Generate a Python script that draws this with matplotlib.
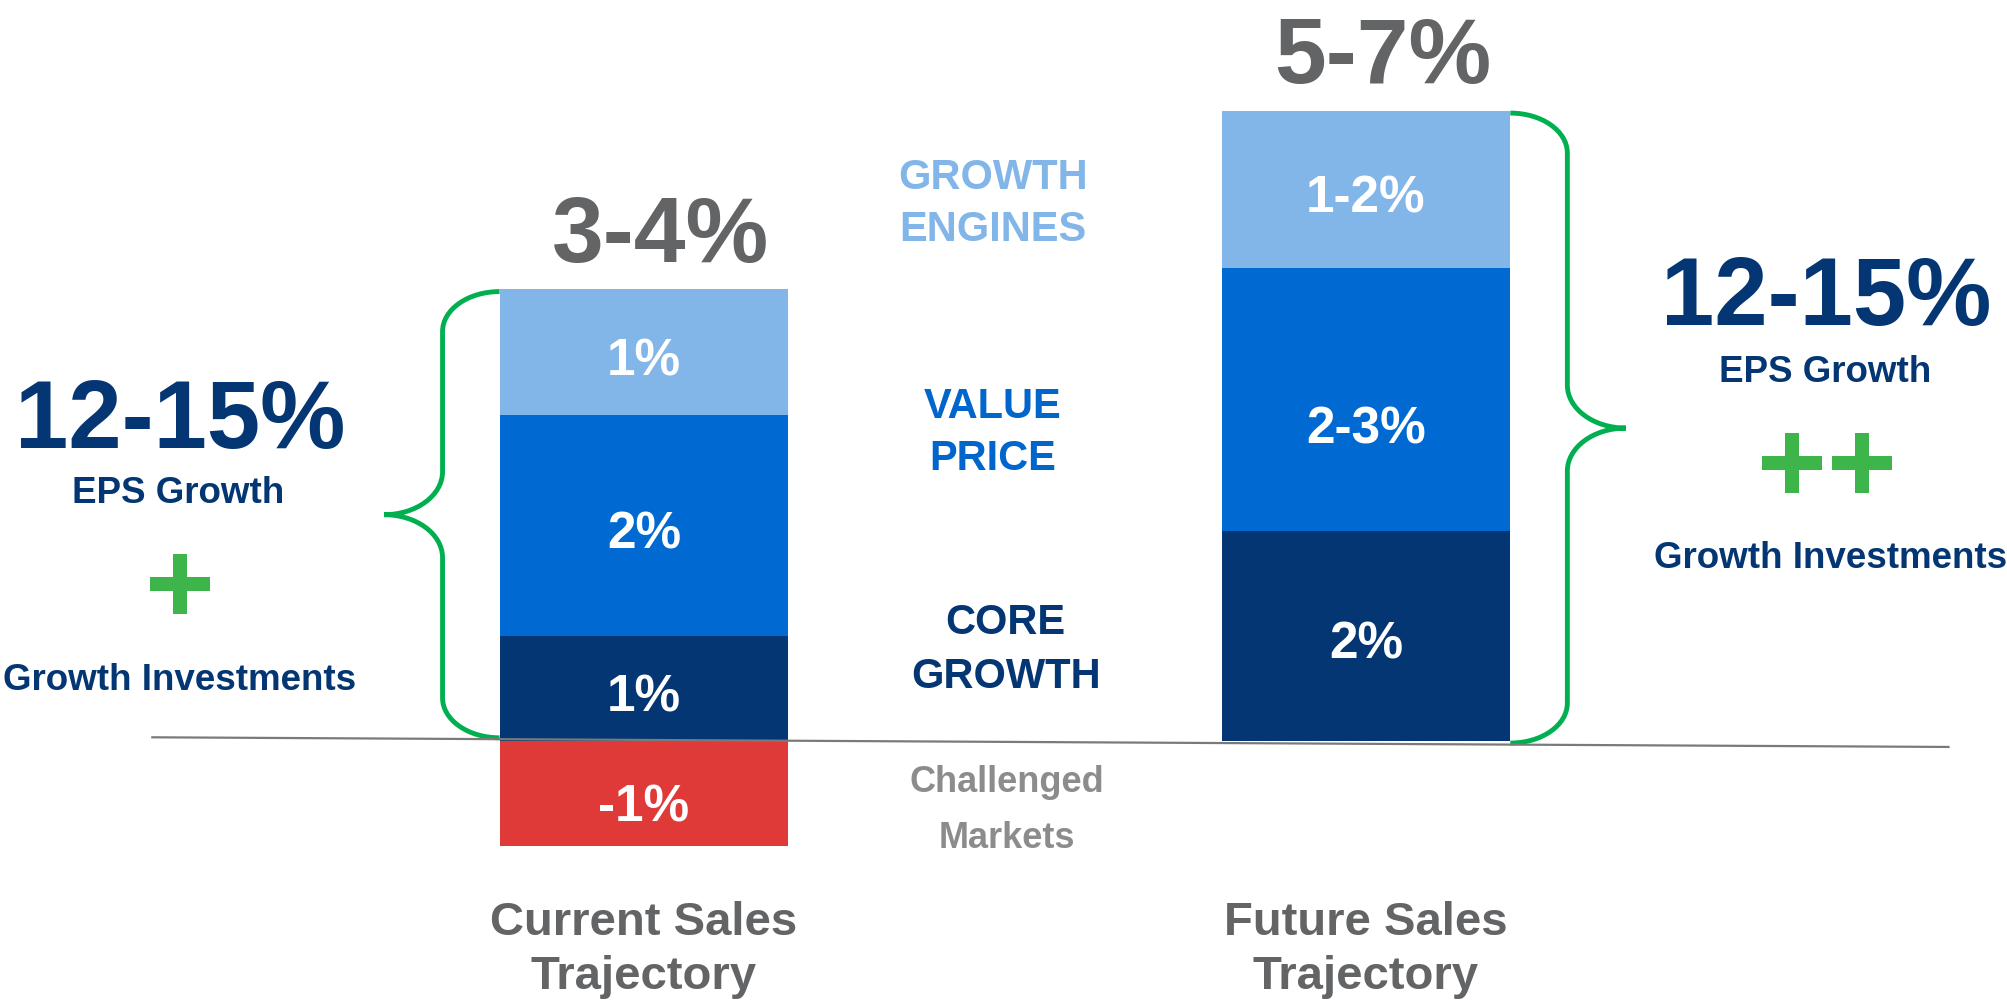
import numpy as np
import matplotlib.pyplot as plt
from matplotlib.path import Path
from matplotlib.patches import PathPatch

plt.rcParams['font.family'] = ['Liberation Sans', 'DejaVu Sans']

# chart data
categories = ['Current Sales\nTrajectory', 'Future Sales\nTrajectory']
core = [1.0, 2.0]
value = [2.1, 2.5]
growth = [1.2, 1.5]
challenged = [-1.0, 0.0]
core_labels = ['1%', '2%']
value_labels = ['2%', '2-3%']
growth_labels = ['1%', '1-2%']
challenged_labels = ['-1%', '']
total_labels = ['3-4%', '5-7%']
eps_labels = ['12-15%', '12-15%']
plus_counts = [1, 2]

NAVY = '#033673'
BLUE = '#006AD2'
LIGHT = '#82B5E8'
RED = '#E03A38'
GREEN = '#00B050'
PLUS_GREEN = '#3DB54A'
GRAY = '#636466'
LIGHT_GRAY = '#8C8C8C'

fig = plt.figure(figsize=(20.07, 10), dpi=100)
ax = fig.add_axes([0, 0, 1, 1])
ax.set_xlim(-0.892, 1.888)
ax.set_ylim(-2.467, 7.057)
ax.axis('off')

x = np.arange(len(categories))
w = 0.4
core = np.array(core)
value = np.array(value)
growth = np.array(growth)
challenged = np.array(challenged)
top = core + value + growth

ax.bar(x, core, w, color=NAVY)
ax.bar(x, value, w, bottom=core, color=BLUE)
ax.bar(x, growth, w, bottom=core + value, color=LIGHT)
ax.bar(x, challenged, w, color=RED)

# baseline (slightly tilted like the slide)
ax.plot([-0.681, 1.807], [0.035, -0.057], color='#7a7a7a', lw=1.6, zorder=5)


def seg_label(xi, yc, s, fs=37, dy=0):
    if not s:
        return
    ax.annotate(s, (xi, yc), xytext=(0, -0.36 * fs - 3 + dy), textcoords='offset points',
                ha='center', va='baseline', color='white', fontsize=fs,
                fontweight='bold', zorder=6)


for i in x:
    seg_label(i, core[i] / 2, core_labels[i])
    seg_label(i, core[i] + value[i] / 2, value_labels[i], dy=-15 * i)
    seg_label(i, core[i] + value[i] + growth[i] / 2, growth_labels[i])
    seg_label(i, challenged[i] / 2, challenged_labels[i], dy=-4)
    ax.annotate(total_labels[i], (i, top[i]), xytext=(12, 20), textcoords='offset points',
                ha='center', va='baseline', color=GRAY, fontsize=67, fontweight='bold')
    # va='baseline' on multi-line text anchors the last line
    ax.text(i, -2.362, categories[i], ha='center', va='baseline', color=GRAY,
            fontsize=34, fontweight='bold', linespacing=1.28)


# curly braces
def brace(x_edge, y0, y1, s, d=0.079, t=0.081, r=0.38, rt=0.41):
    k = 0.552
    mid = (y0 + y1) / 2
    pts = [
        (0, y1),
        (k * d, y1), (d, y1 - r + k * r), (d, y1 - r),
        (d, mid + rt),
        (d, mid + rt - k * rt), (d + t - k * t, mid), (d + t, mid),
        (d + t - k * t, mid), (d, mid - rt + k * rt), (d, mid - rt),
        (d, y0 + r),
        (d, y0 + r - k * r), (k * d, y0), (0, y0),
    ]
    codes = [Path.MOVETO,
             Path.CURVE4, Path.CURVE4, Path.CURVE4,
             Path.LINETO,
             Path.CURVE4, Path.CURVE4, Path.CURVE4,
             Path.CURVE4, Path.CURVE4, Path.CURVE4,
             Path.LINETO,
             Path.CURVE4, Path.CURVE4, Path.CURVE4]
    verts = [(x_edge + s * px, py) for px, py in pts]
    ax.add_patch(PathPatch(Path(verts, codes), fill=False, edgecolor=GREEN,
                           lw=3.5, capstyle='butt', zorder=4))


brace(0 - w / 2, 0.03, top[0] - 0.02, -1)
brace(1 + w / 2, -0.02, top[1] - 0.02, 1)

# middle legend-like labels
ax.text(0.483, 4.762, 'GROWTH\nENGINES', ha='center', va='baseline', color=LIGHT,
        fontsize=30, fontweight='bold', linespacing=1.4)
ax.text(0.483, 2.581, 'VALUE\nPRICE', ha='center', va='baseline', color='#0066CC',
        fontsize=30, fontweight='bold', linespacing=1.4)
ax.text(0.501, 0.505, 'CORE\nGROWTH', ha='center', va='baseline', color=NAVY,
        fontsize=30, fontweight='bold', linespacing=1.45)
ax.text(0.503, -1.019, 'Challenged\nMarkets', ha='center', va='baseline', color=LIGHT_GRAY,
        fontsize=26, fontweight='bold', linespacing=1.76)

# EPS blocks beside the braces
a = 0.127
plus_path = Path([(-a, -0.5), (a, -0.5), (a, -a), (0.5, -a), (0.5, a), (a, a),
                  (a, 0.5), (-a, 0.5), (-a, a), (-0.5, a), (-0.5, -a), (-a, -a),
                  (-a, -0.5)], closed=True)

eps_x = [-0.643, 1.638]
eps_y = [2.79, 3.962]
sub_y = [2.267, 3.419]
plus_y = [1.495, 2.648]
inv_y = [0.486, 1.648]
for i in x:
    ax.text(eps_x[i], eps_y[i], eps_labels[i], ha='center', va='baseline', color=NAVY,
            fontsize=69, fontweight='bold')
    ax.text(eps_x[i] - 0.002, sub_y[i], 'EPS Growth', ha='center', va='baseline',
            color=NAVY, fontsize=26.5, fontweight='bold')
    n = plus_counts[i]
    px = eps_x[i] + (np.arange(n) - (n - 1) / 2) * 0.097
    ax.plot(px, [plus_y[i]] * n, linestyle='none', marker=plus_path,
            markersize=42.5, color=PLUS_GREEN, markeredgewidth=0)
    ax.text(eps_x[i] + 0.006 * i, inv_y[i], 'Growth Investments', ha='center',
            va='baseline', color=NAVY, fontsize=26.5, fontweight='bold')

fig.savefig('out.png', dpi=100)
